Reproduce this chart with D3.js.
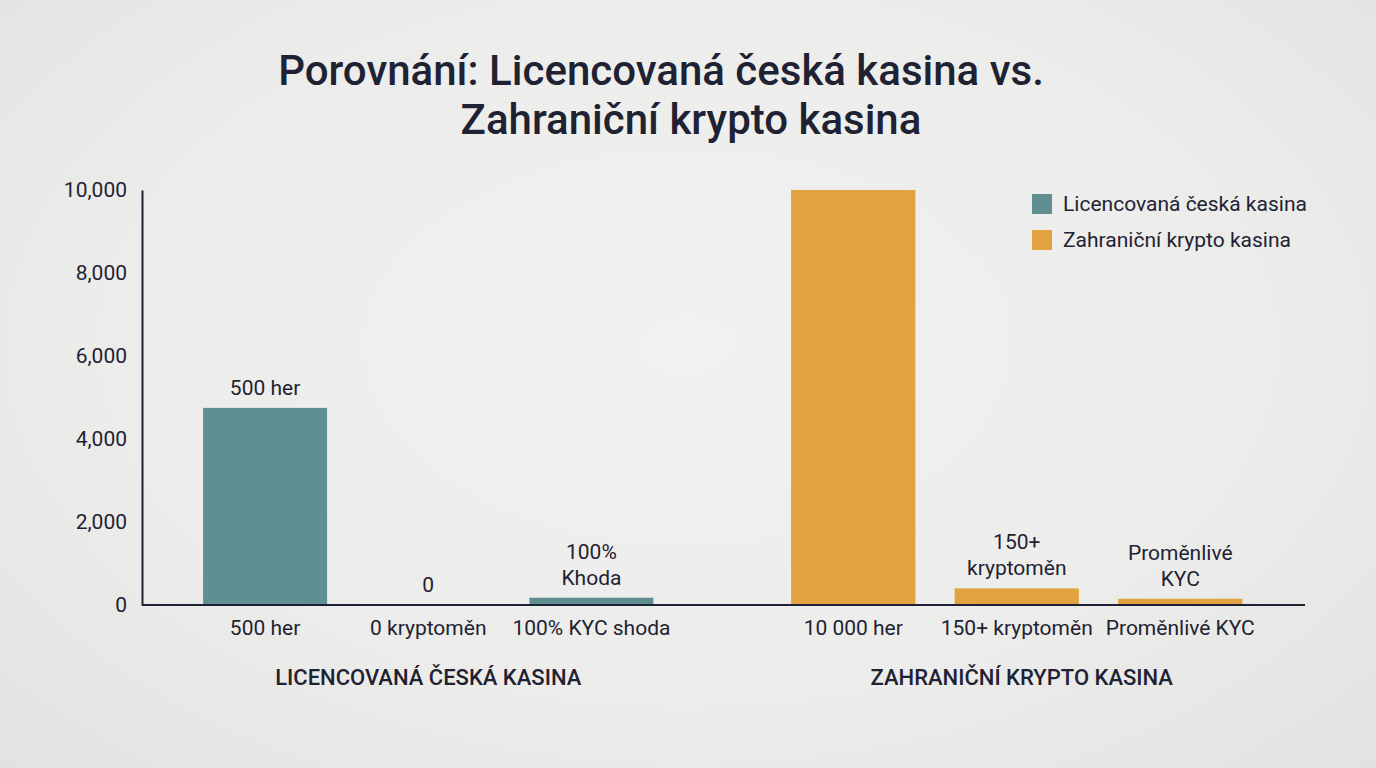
<!DOCTYPE html>
<html>
<head>
<meta charset="utf-8">
<script src="https://cdn.jsdelivr.net/npm/d3@7.9.0/dist/d3.min.js"></script>
<style>
  html, body { margin: 0; padding: 0; }
  body {
    width: 1376px; height: 768px; overflow: hidden;
    background: radial-gradient(ellipse at 50% 45%, #f1f1ef 0%, #ecedea 60%, #e2e3e0 100%);
    font-family: Roboto, "Noto Sans", sans-serif;
  }
</style>
</head>
<body>
<svg id="chart" width="1376" height="768"></svg>
<script>
// data
const groups = ['LICENCOVANÁ ČESKÁ KASINA', 'ZAHRANIČNÍ KRYPTO KASINA'];
const seriesNames = ['Licencovaná česká kasina', 'Zahraniční krypto kasina'];
const czCategories = ['500 her', '0 kryptoměn', '100% KYC shoda'];
const czValues = [4750, 0, 175];
const czLabels = [['500 her'], ['0'], ['100%', 'Khoda']];
const cryptoCategories = ['10 000 her', '150+ kryptoměn', 'Proměnlivé KYC'];
const cryptoValues = [10000, 400, 150];
const cryptoLabels = [[], ['150+', 'kryptoměn'], ['Proměnlivé', 'KYC']];
const yTicks = [0, 2000, 4000, 6000, 8000, 10000];

const colors = ['#5f8f90', '#e0a33f'];
const ink = '#1f2233';

const svg = d3.select('#chart');
const x0 = 142, x1 = 1305;

const y = d3.scaleLinear().domain([0, 10000]).range([605, 190]);

const bandCz = d3.scaleBand().domain(czCategories)
  .range([183.5, 673]).paddingInner(0.24).paddingOuter(0.12);
const bandCrypto = d3.scaleBand().domain(cryptoCategories)
  .range([771.5, 1262]).paddingInner(0.24).paddingOuter(0.12);

// title
const title = svg.append('g')
  .attr('font-size', 42).attr('font-weight', 500).attr('fill', ink)
  .attr('text-anchor', 'middle');
title.append('text').attr('x', 661).attr('y', 85).text('Porovnání: Licencovaná česká kasina vs.');
title.append('text').attr('x', 691).attr('y', 134).text('Zahraniční krypto kasina');

// y axis
const yAxis = svg.append('g')
  .attr('transform', `translate(${x0},0)`)
  .call(d3.axisLeft(y).tickValues(yTicks).tickSize(0).tickPadding(15).tickFormat(d3.format(',')));
yAxis.select('.domain').attr('stroke', ink).attr('stroke-width', 2);
yAxis.selectAll('text').attr('font-size', 21).attr('fill', ink)
  .attr('font-family', 'Roboto, sans-serif');

// bars
const sets = [
  { band: bandCz, cats: czCategories, vals: czValues, labels: czLabels, color: colors[0], group: groups[0] },
  { band: bandCrypto, cats: cryptoCategories, vals: cryptoValues, labels: cryptoLabels, color: colors[1], group: groups[1] }
];

sets.forEach(s => {
  const rows = s.cats.map((c, i) => ({ cat: c, value: s.vals[i], label: s.labels[i] }));

  svg.append('g').selectAll('rect')
    .data(rows)
    .join('rect')
      .attr('x', d => s.band(d.cat))
      .attr('width', s.band.bandwidth())
      .attr('y', d => y(d.value))
      .attr('height', d => y(0) - y(d.value))
      .attr('fill', s.color);

  // value labels above bars
  svg.append('g').selectAll('text')
    .data(rows)
    .join('text')
      .attr('text-anchor', 'middle')
      .attr('font-size', 21).attr('fill', ink)
      .attr('x', d => s.band(d.cat) + s.band.bandwidth() / 2)
      .attr('y', d => y(d.value) - 13 - (d.label.length - 1) * 26)
      .selectAll('tspan')
      .data(d => d.label.map(t => ({ t, x: s.band(d.cat) + s.band.bandwidth() / 2 })))
      .join('tspan')
        .attr('x', d => d.x)
        .attr('dy', (d, i) => i === 0 ? 0 : 26)
        .text(d => d.t);

  // category axis labels
  const xa = svg.append('g')
    .attr('transform', `translate(0,${y(0)})`)
    .call(d3.axisBottom(s.band).tickSize(0).tickPadding(15));
  xa.select('.domain').remove();
  xa.selectAll('text').attr('font-size', 21).attr('fill', ink)
    .attr('font-family', 'Roboto, sans-serif');

  // group label
  const r = s.band.range();
  svg.append('text')
    .attr('x', (r[0] + r[1]) / 2 + (s === sets[1] ? 5 : 0))
    .attr('y', 685)
    .attr('text-anchor', 'middle')
    .attr('font-size', 22).attr('font-weight', 500).attr('fill', ink)
    .text(s.group);
});

// x baseline
svg.append('line')
  .attr('x1', x0).attr('x2', x1)
  .attr('y1', y(0)).attr('y2', y(0))
  .attr('stroke', ink).attr('stroke-width', 2);

// legend
const legend = svg.append('g').attr('transform', 'translate(1032,194)');
const li = legend.selectAll('g')
  .data(seriesNames)
  .join('g')
    .attr('transform', (d, i) => `translate(0,${i * 36})`);
li.append('rect').attr('width', 20).attr('height', 20)
  .attr('fill', (d, i) => colors[i]);
li.append('text').attr('x', 31).attr('y', 17)
  .attr('font-size', 21).attr('fill', ink)
  .text(d => d);
</script>
</body>
</html>
